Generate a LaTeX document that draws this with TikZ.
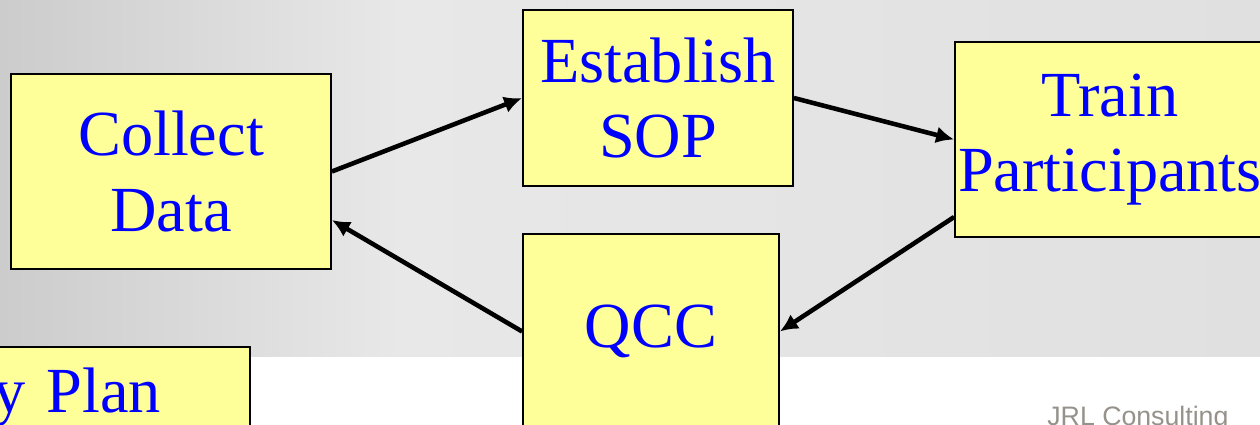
\documentclass[tikz,border=0pt]{standalone}
\usepackage{fontspec}
\setmainfont{Liberation Serif}
\newfontfamily\footfont{Liberation Sans}
\usetikzlibrary{shapes,arrows.meta,positioning}
\definecolor{boxyellow}{RGB}{255,255,153}
\definecolor{bgdark}{RGB}{204,204,204}
\definecolor{bglight}{RGB}{232,232,232}
\definecolor{bgright}{RGB}{224,224,224}
\definecolor{footgray}{RGB}{150,146,138}
\tikzset{
  stepbox/.style={draw,rectangle,line width=1pt,fill=boxyellow,text=blue,align=center,
    font=\fontsize{36.6}{42.7}\selectfont,inner sep=0pt},
  flow/.style={-{Latex[length=0.36cm,width=0.34cm]},line width=2.6pt}
}

\begin{document}
\begin{tikzpicture}
    \useasboundingbox (0,0) rectangle (25.2,8.48);
    \clip (0,0) rectangle (25.2,8.48);

    % Background
    \shade[left color=bgdark,right color=bglight] (0,1.36) rectangle (8,8.48);
    \shade[left color=bglight,right color=bgright] (7.99,1.36) rectangle (25.2,8.48);

    % Steps
    \node[stepbox,minimum width=6.4cm,minimum height=3.9cm] (collect) at (3.42,5.05) {Collect\\Data};
    \node[stepbox,minimum width=5.4cm,minimum height=3.52cm] (establish) at (13.16,6.52) {Establish\\SOP};
    \node[stepbox,minimum width=6.2cm,minimum height=3.9cm] (train) at (22.2,5.69) {Train\\Participants};
    \node[stepbox,minimum width=5.12cm,minimum height=3.9cm] (qcc) at (13.02,1.85) {QCC};

    % Plan (cut off)
    \node[stepbox,anchor=north east,text width=4.5cm,align=right,inner xsep=1.78cm,inner ysep=0.42cm] (plan) at (5.02,1.56) {y Plan};

    % Arrows
    \draw[flow] (collect.east) -- (establish.west);
    \draw[flow] (establish.east) -- (train.west);
    \draw[flow] ([yshift=-1.55cm]train.west) -- (qcc.east);
    \draw[flow] (qcc.west) -- ([yshift=-0.97cm]collect.east);

    \node[anchor=base west,font=\footfont\fontsize{15.2}{18}\selectfont,text=footgray,inner sep=0pt] (footer) at (20.94,-0.02) {JRL Consulting};
\end{tikzpicture}
\end{document}
